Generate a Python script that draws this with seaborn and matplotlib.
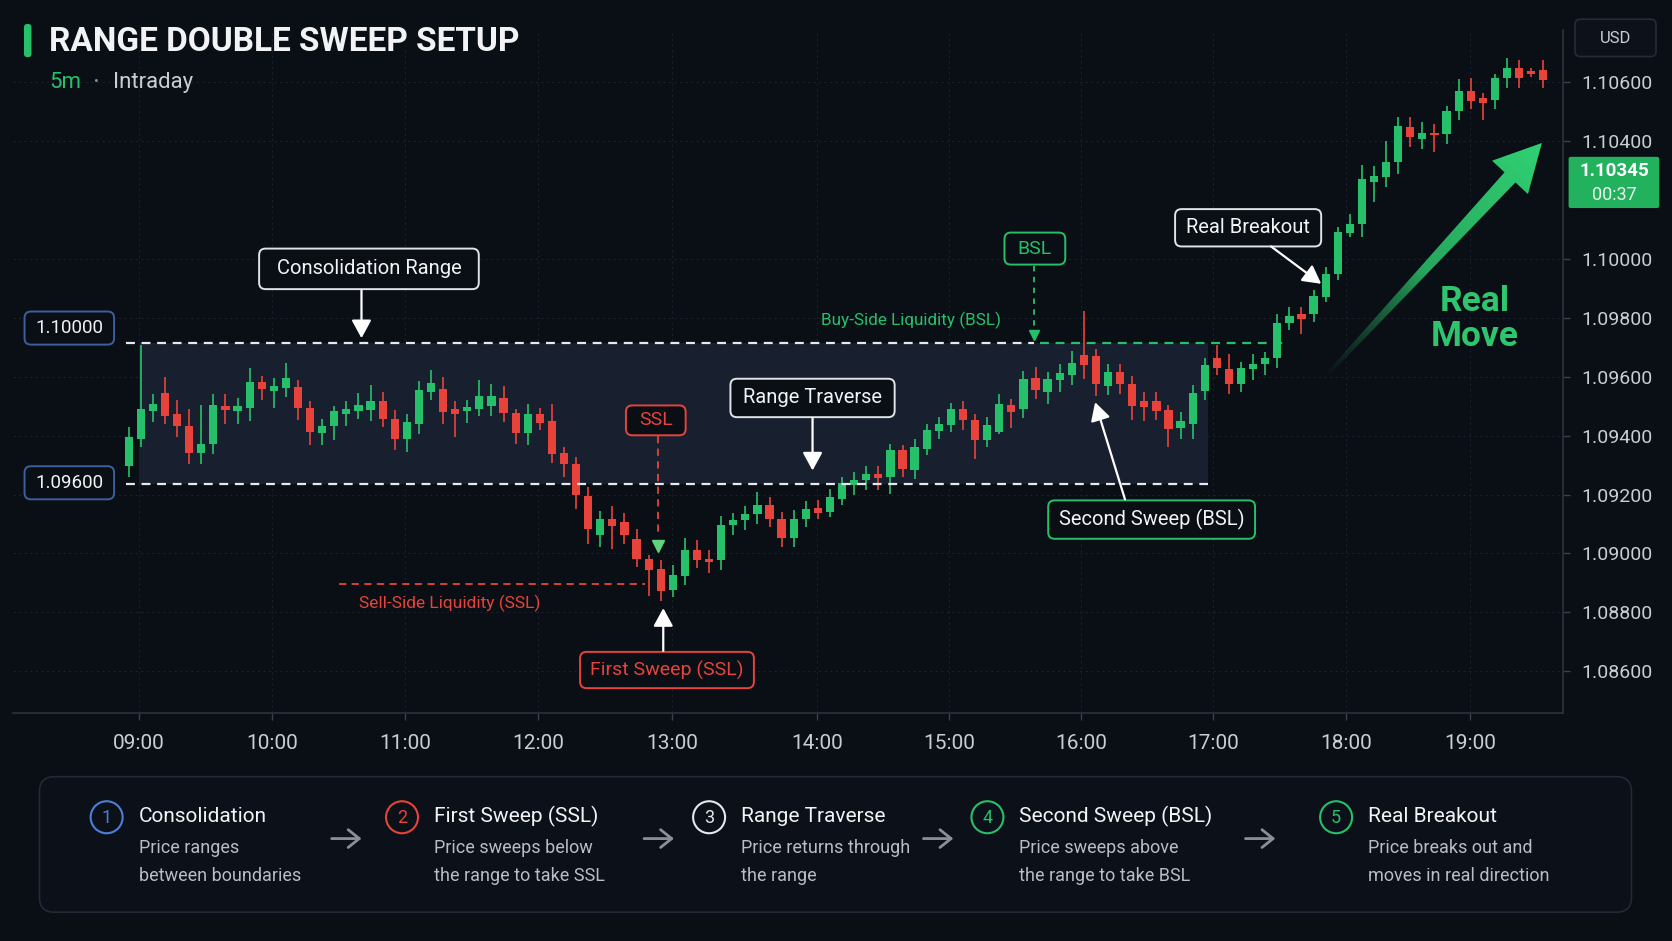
import numpy as np
import pandas as pd
import matplotlib
matplotlib.use("Agg")
import matplotlib.pyplot as plt
import seaborn as sns
from matplotlib.patches import FancyBboxPatch, Circle, Polygon, Rectangle

# ---------------- data (5m candles) ----------------
opens = [1.09297, 1.09390, 1.09483, 1.09545, 1.09473, 1.09434, 1.09342, 1.09371, 1.09502, 1.09484,
         1.09494, 1.09583, 1.09550, 1.09562, 1.09564, 1.09493, 1.09409, 1.09432, 1.09475, 1.09484,
         1.09486, 1.09518, 1.09458, 1.09390, 1.09441, 1.09548, 1.09560, 1.09492, 1.09483, 1.09491,
         1.09499, 1.09529, 1.09477, 1.09409, 1.09474, 1.09450, 1.09341, 1.09305, 1.09194, 1.09064,
         1.09118, 1.09106, 1.09050, 1.08982, 1.08948, 1.08876, 1.08922, 1.09013, 1.08982, 1.08976,
         1.09095, 1.09112, 1.09133, 1.09163, 1.09118, 1.09053, 1.09118, 1.09155, 1.09140, 1.09186,
         1.09231, 1.09250, 1.09271, 1.09259, 1.09350, 1.09282, 1.09356, 1.09416, 1.09435, 1.09491,
         1.09452, 1.09384, 1.09412, 1.09503, 1.09492, 1.09597, 1.09548, 1.09590, 1.09605, 1.09675,
         1.09669, 1.09567, 1.09616, 1.09576, 1.09516, 1.09516, 1.09486, 1.09426, 1.09441, 1.09551,
         1.09665, 1.09627, 1.09576, 1.09627, 1.09642, 1.09665, 1.09783, 1.09812, 1.09814, 1.09871,
         1.09948, 1.10088, 1.10120, 1.10262, 1.10279, 1.10330, 1.10449, 1.10406, 1.10428, 1.10426,
         1.10503, 1.10571, 1.10545, 1.10539, 1.10613, 1.10647, 1.10639, 1.10643]
highs = [1.09428, 1.09707, 1.09543, 1.09599, 1.09520, 1.09489, 1.09503, 1.09543, 1.09543, 1.09529,
         1.09628, 1.09602, 1.09594, 1.09645, 1.09590, 1.09517, 1.09458, 1.09502, 1.09518, 1.09545,
         1.09571, 1.09548, 1.09486, 1.09473, 1.09586, 1.09624, 1.09599, 1.09518, 1.09520, 1.09588,
         1.09574, 1.09567, 1.09491, 1.09506, 1.09495, 1.09508, 1.09363, 1.09327, 1.09225, 1.09144,
         1.09160, 1.09137, 1.09084, 1.08993, 1.08976, 1.08959, 1.09053, 1.09046, 1.09010, 1.09126,
         1.09137, 1.09160, 1.09208, 1.09191, 1.09140, 1.09146, 1.09177, 1.09182, 1.09220, 1.09259,
         1.09276, 1.09297, 1.09296, 1.09370, 1.09367, 1.09390, 1.09438, 1.09463, 1.09511, 1.09517,
         1.09474, 1.09463, 1.09540, 1.09525, 1.09619, 1.09633, 1.09616, 1.09644, 1.09688, 1.09822,
         1.09695, 1.09644, 1.09642, 1.09601, 1.09548, 1.09548, 1.09503, 1.09480, 1.09571, 1.09665,
         1.09707, 1.09676, 1.09650, 1.09676, 1.09684, 1.09814, 1.09837, 1.09837, 1.09896, 1.09973,
         1.10109, 1.10154, 1.10318, 1.10315, 1.10401, 1.10483, 1.10483, 1.10466, 1.10458, 1.10519,
         1.10610, 1.10616, 1.10564, 1.10628, 1.10681, 1.10677, 1.10650, 1.10675]
lows = [1.09258, 1.09360, 1.09447, 1.09439, 1.09396, 1.09303, 1.09303, 1.09339, 1.09441, 1.09441,
        1.09448, 1.09520, 1.09495, 1.09531, 1.09452, 1.09367, 1.09367, 1.09386, 1.09432, 1.09458,
        1.09450, 1.09428, 1.09350, 1.09345, 1.09405, 1.09522, 1.09441, 1.09396, 1.09443, 1.09465,
        1.09465, 1.09446, 1.09373, 1.09367, 1.09420, 1.09307, 1.09259, 1.09152, 1.09033, 1.09021,
        1.09016, 1.09033, 1.08953, 1.08854, 1.08840, 1.08851, 1.08894, 1.08951, 1.08933, 1.08944,
        1.09061, 1.09078, 1.09101, 1.09089, 1.09021, 1.09021, 1.09089, 1.09118, 1.09125, 1.09163,
        1.09200, 1.09214, 1.09214, 1.09203, 1.09259, 1.09254, 1.09333, 1.09390, 1.09412, 1.09420,
        1.09322, 1.09361, 1.09407, 1.09427, 1.09461, 1.09525, 1.09508, 1.09548, 1.09571, 1.09593,
        1.09533, 1.09537, 1.09540, 1.09454, 1.09450, 1.09454, 1.09361, 1.09390, 1.09390, 1.09520,
        1.09605, 1.09542, 1.09548, 1.09588, 1.09605, 1.09631, 1.09758, 1.09746, 1.09786, 1.09854,
        1.09928, 1.10073, 1.10075, 1.10194, 1.10245, 1.10290, 1.10381, 1.10372, 1.10363, 1.10390,
        1.10471, 1.10508, 1.10471, 1.10508, 1.10582, 1.10579, 1.10619, 1.10582]
closes = [1.09396, 1.09492, 1.09509, 1.09468, 1.09434, 1.09342, 1.09371, 1.09503, 1.09486, 1.09502,
          1.09583, 1.09557, 1.09568, 1.09594, 1.09493, 1.09411, 1.09432, 1.09483, 1.09492, 1.09503,
          1.09518, 1.09458, 1.09390, 1.09447, 1.09556, 1.09579, 1.09481, 1.09473, 1.09497, 1.09533,
          1.09533, 1.09477, 1.09409, 1.09474, 1.09443, 1.09338, 1.09305, 1.09197, 1.09084, 1.09118,
          1.09093, 1.09061, 1.08982, 1.08944, 1.08872, 1.08925, 1.09010, 1.08978, 1.08970, 1.09098,
          1.09114, 1.09135, 1.09163, 1.09118, 1.09053, 1.09118, 1.09152, 1.09137, 1.09191, 1.09239,
          1.09250, 1.09271, 1.09257, 1.09350, 1.09288, 1.09361, 1.09418, 1.09438, 1.09491, 1.09452,
          1.09384, 1.09437, 1.09508, 1.09480, 1.09593, 1.09554, 1.09593, 1.09613, 1.09648, 1.09641,
          1.09576, 1.09616, 1.09574, 1.09499, 1.09497, 1.09484, 1.09424, 1.09449, 1.09545, 1.09639,
          1.09631, 1.09576, 1.09631, 1.09644, 1.09665, 1.09783, 1.09805, 1.09797, 1.09873, 1.09950,
          1.10092, 1.10120, 1.10273, 1.10282, 1.10330, 1.10451, 1.10415, 1.10428, 1.10420, 1.10503,
          1.10571, 1.10537, 1.10530, 1.10616, 1.10647, 1.10616, 1.10628, 1.10609]

hour_labels = ["09:00", "10:00", "11:00", "12:00", "13:00", "14:00",
               "15:00", "16:00", "17:00", "18:00", "19:00"]
price_ticks = [1.086, 1.088, 1.090, 1.092, 1.094, 1.096, 1.098, 1.100, 1.104, 1.106]
range_high = 1.09716
range_low = 1.09234
ssl_level = 1.08897
range_tags = ["1.10000", "1.09600"]
last_price = "1.10345"
bar_timer = "00:37"

step_titles = ["Consolidation", "First Sweep (SSL)", "Range Traverse",
               "Second Sweep (BSL)", "Real Breakout"]
step_text = [("Price ranges", "between boundaries"),
             ("Price sweeps below", "the range to take SSL"),
             ("Price returns through", "the range"),
             ("Price sweeps above", "the range to take BSL"),
             ("Price breaks out and", "moves in real direction")]

# ---------------- style ----------------
BG = "#0a0e15"
GREEN = "#27c06a"
RED = "#e8433a"
WHITE = "#f2f3f5"
GREY = "#b8bdc6"
BLUE = "#4d7fd6"

sns.set_theme(style="dark", rc={"axes.facecolor": BG, "figure.facecolor": BG,
                                "axes.edgecolor": "#2a303b", "text.color": WHITE})
plt.rcParams["font.family"] = ["Roboto", "DejaVu Sans"]

df = pd.DataFrame({"open": opens, "high": highs, "low": lows, "close": closes})
df["i"] = np.arange(len(df))
df["up"] = df["close"] >= df["open"]
colors = np.where(df["up"], GREEN, RED)

fig = plt.figure(figsize=(16.72, 9.41), dpi=100)
ax = fig.add_axes([12 / 1568, 1 - 668 / 882, 1454 / 1568, 640 / 882])
ax.set_xlim(-9.59, 118.65)
ax.set_ylim(1.08459, 1.10778)

# consolidation box + levels
ax.add_patch(Rectangle((0.82, range_low), 88.46, range_high - range_low,
                       fc="#182030", ec="none", zorder=1))
dash = (0, (4, 3))
ax.hlines(range_high, -0.24, 74.9, colors="#e6e8ec", linestyles=dash, lw=1.6, zorder=5)
ax.hlines(range_high, 75.4, 95.6, colors=GREEN, linestyles=dash, lw=1.6, zorder=5)
ax.hlines(range_low, -0.24, 89.3, colors="#e6e8ec", linestyles=dash, lw=1.6, zorder=5)
ax.hlines(ssl_level, 17.4, 42.7, colors=RED, linestyles=dash, lw=1.3, zorder=5)

# candles
ax.vlines(df["i"], df["low"], df["high"], colors=colors, lw=1.2, zorder=3)
body_lo = df[["open", "close"]].min(axis=1)
body_h = (df["close"] - df["open"]).abs().clip(lower=0.00004)
ax.bar(df["i"], body_h, bottom=body_lo, width=0.68, color=colors, lw=0, zorder=4)

# axes cosmetics
hour_pos = [0.82, 11.84, 22.87, 33.89, 44.92, 56.91, 67.85, 78.78, 89.72, 100.66, 110.97]
ax.set_xticks(hour_pos)
ax.set_xticklabels(hour_labels)
ax.yaxis.tick_right()
ax.set_yticks(price_ticks)
ax.set_yticklabels([f"{p:.5f}" for p in price_ticks])
ax.tick_params(axis="y", colors="#3a404c", labelcolor="#c9cdd4", labelsize=14,
               length=5, width=1, pad=8, direction="out", right=True)
ax.tick_params(axis="x", colors="#3a404c", labelcolor="#c9cdd4", labelsize=15,
               length=5, width=1, pad=10, bottom=True)
ax.grid(True, color="#1a2030", ls=(0, (2, 3)), lw=0.8)
for s in ["top", "left"]:
    ax.spines[s].set_visible(False)
for s in ["right", "bottom"]:
    ax.spines[s].set_color("#2c323e")
    ax.spines[s].set_linewidth(1.2)
ax.set_xlabel("")
ax.set_ylabel("")

# ---------------- overlay in reference pixel space ----------------
ov = fig.add_axes([0, 0, 1, 1])
ov.set_xlim(0, 1568)
ov.set_ylim(882, 0)
ov.axis("off")
ov.patch.set_alpha(0)


def box(cx, cy, w, h, ec, fc=BG, r=6, lw=1.4, z=6):
    ov.add_patch(FancyBboxPatch((cx - w / 2, cy - h / 2), w, h,
                                boxstyle=f"round,pad=0,rounding_size={r}",
                                fc=fc, ec=ec, lw=lw, zorder=z))


def label(cx, cy, w, h, s, ec, tc, size=13.5):
    box(cx, cy, w, h, ec)
    ov.text(cx, cy, s, ha="center", va="center", color=tc, fontsize=size, zorder=7)


def arrow(x0, y0, x1, y1, color="white"):
    ov.annotate("", xy=(x1, y1), xytext=(x0, y0), zorder=7,
                arrowprops=dict(arrowstyle="-|>,head_length=0.55,head_width=0.3",
                                color=color, lw=1.6, shrinkA=0, shrinkB=0,
                                mutation_scale=20))


# title
box(26, 38, 7, 31, ec="none", fc=GREEN, r=3)
ov.text(46, 39, "RANGE DOUBLE SWEEP SETUP", fontsize=24, fontweight="bold",
        color=WHITE, va="center", ha="left")
ov.text(46, 77, "5m", fontsize=16, color=GREEN, va="center")
ov.text(88, 77, "•", fontsize=10, color="#8a909a", va="center")
ov.text(106, 77, "Intraday", fontsize=16, color="#c9cdd4", va="center")

# range tags on the left
label(65, 307.5, 84, 31, range_tags[0], "#3d5f9e", WHITE, 13.5)
label(65, 452.5, 84, 31, range_tags[1], "#3d5f9e", WHITE, 13.5)

# annotations
label(346, 252, 206, 38, "Consolidation Range", "#e0e3e8", WHITE, 14.5)
arrow(339, 272, 339, 317)
label(762, 373, 154, 36, "Range Traverse", "#e0e3e8", WHITE, 14.5)
arrow(762, 392, 762, 441)
label(615, 394, 56, 28, "SSL", RED, RED, 14)
ov.plot([617, 617], [409, 503], color=RED, lw=1.3, ls=(0, (4, 3)), zorder=6)
ov.plot([617], [512], marker="v", ms=8, color="#5fd37e", zorder=7)
ov.text(422, 566, "Sell-Side Liquidity (SSL)", color=RED, fontsize=12.5,
        ha="center", va="center")
label(625.5, 628, 163, 34, "First Sweep (SSL)", RED, RED, 14)
arrow(622, 610, 622, 570)
label(970.5, 233, 57, 30, "BSL", GREEN, GREEN, 14)
ov.plot([970, 970], [249, 309], color=GREEN, lw=1.3, ls=(0, (3, 3)), zorder=6)
ov.plot([970], [314], marker="v", ms=7, color=GREEN, zorder=7)
ov.text(854, 300, "Buy-Side Liquidity (BSL)", color=GREEN, fontsize=12.3,
        ha="center", va="center")
label(1080, 487, 194, 36, "Second Sweep (BSL)", GREEN, WHITE, 14.5)
arrow(1055, 468, 1027, 377)
label(1170.5, 213.5, 137, 35, "Real Breakout", "#e0e3e8", WHITE, 14.5)
arrow(1192, 231, 1239, 266)

# gradient "real move" arrow
tail = np.array([1240.0, 356.0])
head = np.array([1446.0, 134.0])
d = head - tail
L = np.hypot(*d)
u = d / L
n = np.array([-u[1], u[0]])
neck = head - u * 44
pts = np.array([tail + n * 1.5, neck + n * 7, neck + n * 23, head,
                neck - n * 23, neck - n * 7, tail - n * 1.5])
poly = Polygon(pts, closed=True, fc="none", ec="none")
ov.add_patch(poly)
xmin, ymin = pts.min(axis=0)
xmax, ymax = pts.max(axis=0)
X, Y = np.meshgrid(np.linspace(xmin, xmax, 300), np.linspace(ymin, ymax, 300))
t = np.clip(((X - tail[0]) * u[0] + (Y - tail[1]) * u[1]) / L, 0, 1)
img = np.zeros((300, 300, 4))
img[..., 0] = 0.12 + 0.07 * t
img[..., 1] = 0.50 + 0.32 * t
img[..., 2] = 0.30 + 0.15 * t
img[..., 3] = np.clip(t * 2.2, 0, 1) ** 1.1
im = ov.imshow(img, extent=(xmin, xmax, ymax, ymin), origin="upper", zorder=5,
               aspect="auto", interpolation="bilinear")
im.set_clip_path(poly)
ov.set_xlim(0, 1568)
ov.set_ylim(882, 0)
ov.text(1383, 299, "Real\nMove", color="#2fc46e", fontsize=25.5, fontweight="bold",
        ha="center", va="center", linespacing=1.1)

# right column widgets
box(1515, 35.5, 76, 35, ec="#262c37", fc="#0d1119", r=5, lw=1.2)
ov.text(1515, 36, "USD", color="#c9cdd4", fontsize=12, ha="center", va="center",
        zorder=8)
box(1513.5, 171, 85, 48, ec="none", fc="#22b15c", r=2)
ov.text(1513.5, 160, last_price, color="white", fontsize=13.5, fontweight="bold",
        ha="center", va="center", zorder=8)
ov.text(1513.5, 183, bar_timer, color="#e8f6ee", fontsize=13, ha="center",
        va="center", zorder=8)

# ---------------- bottom step panel ----------------
box(783.5, 791.5, 1493, 127, ec="#232935", fc="#0c1018", r=14, lw=1.2, z=2)
circle_x = [100, 377, 665, 926, 1253]
circle_c = [BLUE, RED, "#e6e8ec", GREEN, GREEN]
for k in range(5):
    cx = circle_x[k]
    ov.add_patch(Circle((cx, 766), 15, fc="none", ec=circle_c[k], lw=1.5, zorder=3))
    ov.text(cx, 767, str(k + 1), color=circle_c[k], fontsize=13, ha="center",
            va="center", zorder=4)
    ov.text(cx + 30, 765, step_titles[k], color=WHITE, fontsize=15,
            ha="left", va="center", zorder=4)
    ov.text(cx + 30, 795, step_text[k][0], color=GREY, fontsize=13,
            ha="left", va="center", zorder=4)
    ov.text(cx + 30, 821, step_text[k][1], color=GREY, fontsize=13,
            ha="left", va="center", zorder=4)
for arr_x in [325, 618, 880, 1182]:
    ov.annotate("", xy=(arr_x + 14, 786), xytext=(arr_x - 14, 786), zorder=4,
                arrowprops=dict(arrowstyle="->,head_length=0.5,head_width=0.4",
                                color="#8a8f99", lw=2, shrinkA=0, shrinkB=0,
                                mutation_scale=16))

fig.savefig("out.png", dpi=100, facecolor=BG)
plt.close(fig)
